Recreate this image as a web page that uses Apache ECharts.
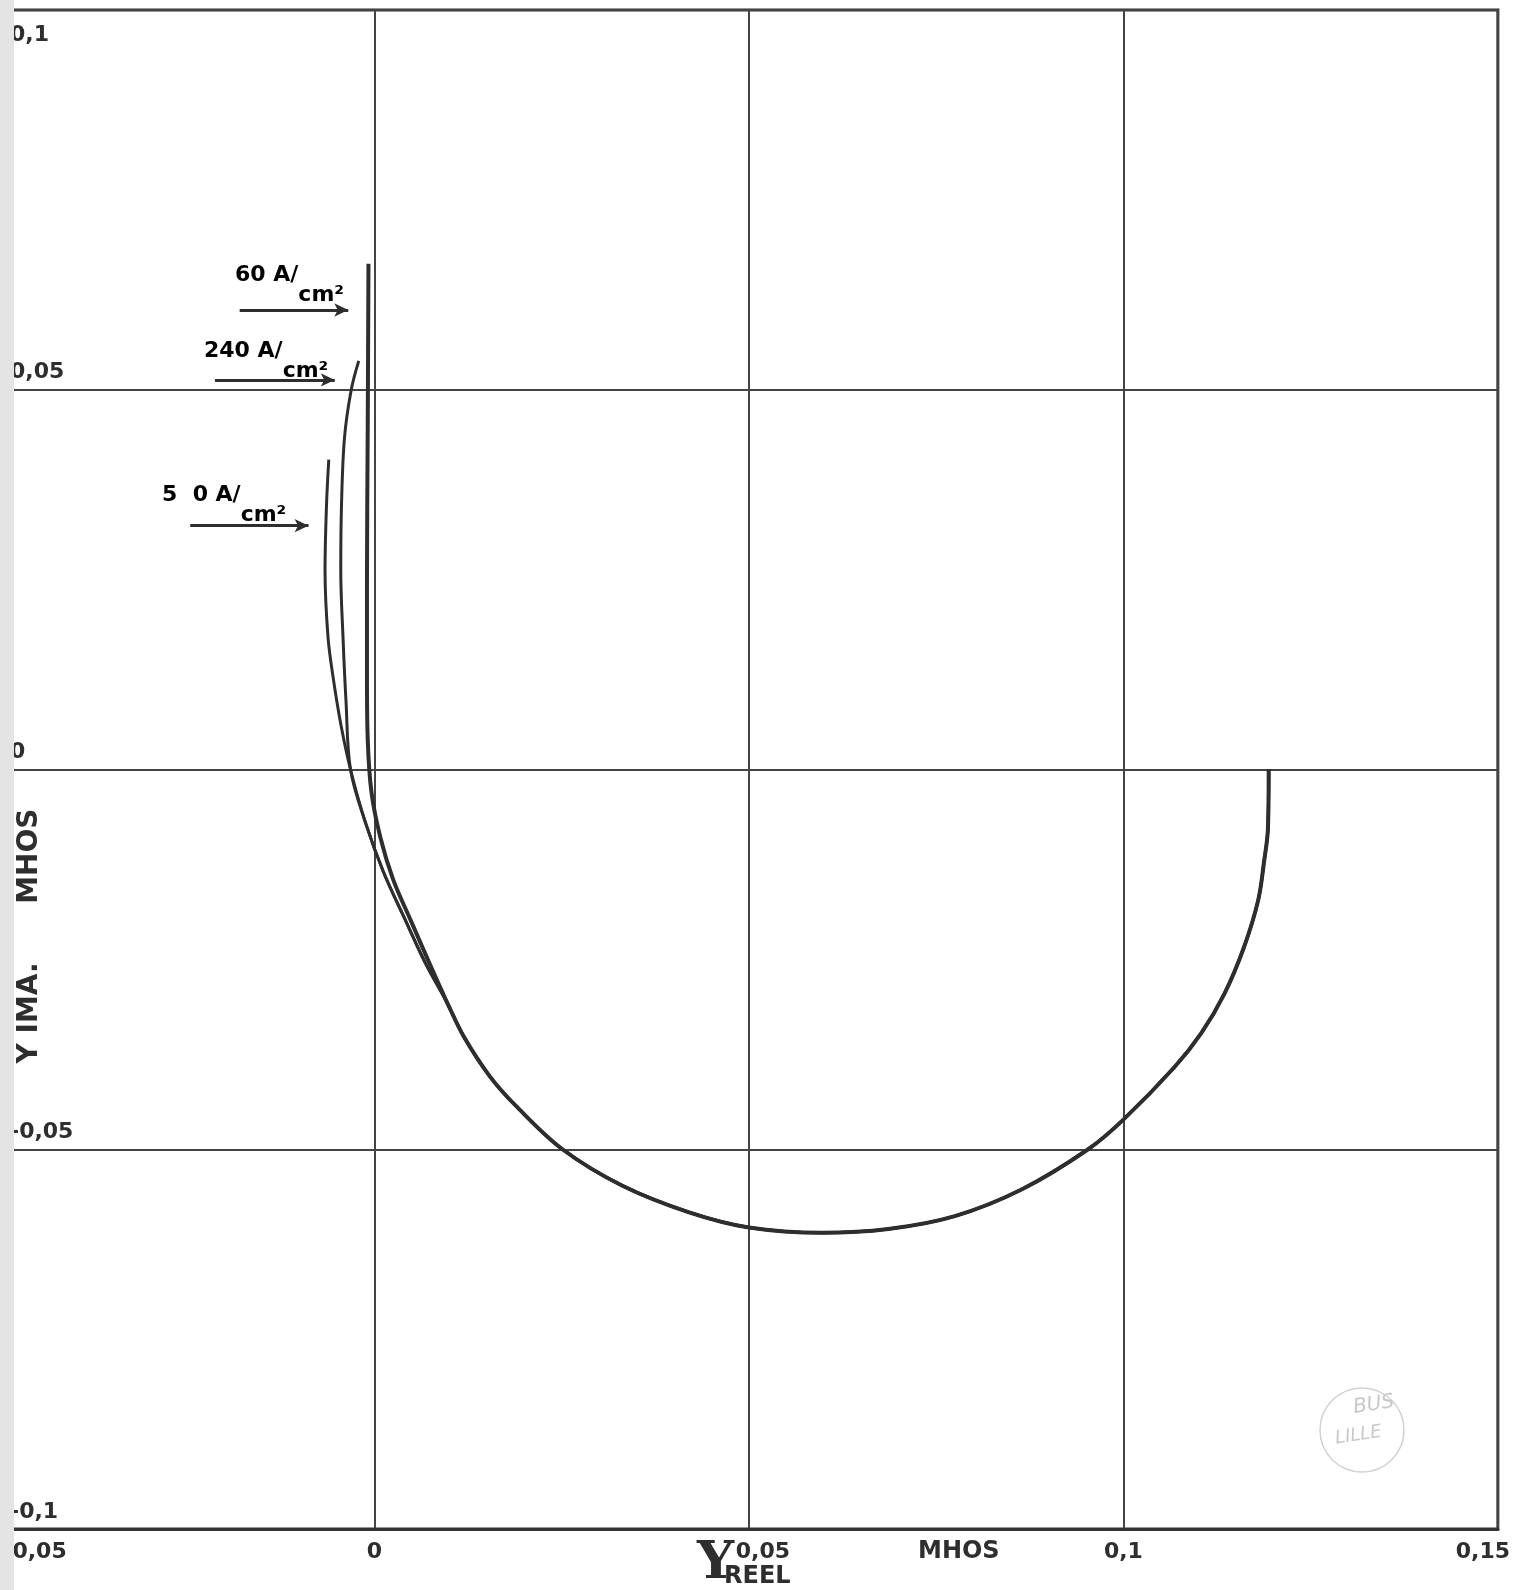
<!DOCTYPE html>
<html>
<head>
<meta charset="utf-8">
<script src="https://cdn.jsdelivr.net/npm/echarts@6/dist/echarts.min.js"></script>
<style>
html, body { margin: 0; padding: 0; background: #fff; }
#chart { width: 1513px; height: 1590px; }
</style>
</head>
<body>
<div id="chart"></div>
<script>
// admittance (Y reel / Y imag, mhos)
var xMin = -0.05, xMax = 0.15, xStep = 0.05;
var yMin = -0.1, yMax = 0.1, yStep = 0.05;

// upper parts, one per current density
var head_60 = [[-0.0008, 0.0666], [-0.0009, 0.045], [-0.001, 0.025], [-0.001, 0.012], [-0.0009, 0.004],
    [-0.0004, -0.003], [0.0008, -0.009], [0.0025, -0.0145], [0.0049, -0.02], [0.0072, -0.0252]];
var head_240 = [[-0.0021, 0.0538], [-0.0031, 0.05], [-0.004, 0.0437], [-0.0044, 0.0349], [-0.0045, 0.0262],
    [-0.0042, 0.0174], [-0.0038, 0.009]];
var head_50 = [[-0.0061, 0.0408], [-0.0064, 0.0349], [-0.0066, 0.0262], [-0.0062, 0.0174], [-0.0055, 0.012],
    [-0.0045, 0.006]];
// 240 and 50 run together below the real axis
var bend_low = [[-0.0032, 0.0], [-0.0012, -0.007], [0.0012, -0.0135], [0.0042, -0.02], [0.0068, -0.0255]];
// common lower arc
var tail = [[0.0098, -0.0309], [0.012, -0.0353], [0.0154, -0.0404], [0.0189, -0.0443], [0.0251, -0.05],
    [0.0331, -0.0548], [0.042, -0.0583], [0.05, -0.0603], [0.0598, -0.061], [0.0686, -0.0605],
    [0.0775, -0.0588], [0.0864, -0.0553], [0.0953, -0.05], [0.1, -0.0461], [0.1068, -0.0392],
    [0.1104, -0.0347], [0.1135, -0.0295], [0.1161, -0.0234], [0.118, -0.0172], [0.1188, -0.012],
    [0.1193, -0.0078], [0.1194, 0]];

// arrows pointing at each curve (data coords)
var arrow_60 = [[-0.018, 0.0605], [-0.0035, 0.0605]];
var arrow_240 = [[-0.0213, 0.0513], [-0.0053, 0.0513]];
var arrow_50 = [[-0.0246, 0.0321], [-0.0088, 0.0321]];

var ink = '#2e2e2e';
var font = 'DejaVu Sans';

function fmt(v) {
    if (v === 0) return '0';
    return String(Math.round(v * 100) / 100).replace('.', ',');
}

function arrowLine(a) {
    return {
        silent: true,
        symbol: ['none', 'arrow'],
        symbolSize: [10, 14],
        label: {show: false},
        lineStyle: {color: ink, width: 3, type: 'solid'},
        data: [[{coord: a[0]}, {coord: a[1]}]]
    };
}

function curve(name, data, width, arrow) {
    var s = {
        name: name,
        type: 'line',
        data: data,
        smooth: 0.35,
        showSymbol: false,
        silent: true,
        animation: false,
        lineStyle: {color: ink, width: width}
    };
    if (arrow) s.markLine = arrowLine(arrow);
    return s;
}

var dens = {
    n: {fontFamily: font, fontWeight: 'bold', fontSize: 22, color: ink, lineHeight: 42, verticalAlign: 'top'},
    c: {fontFamily: font, fontWeight: 'bold', fontSize: 22, color: ink, lineHeight: 42, verticalAlign: 'bottom'}
};
var tick = {fontFamily: font, fontWeight: 'bold', fontSize: 22, color: ink};

var chart = echarts.init(document.getElementById('chart'));
chart.setOption({
    backgroundColor: '#fff',
    animation: false,
    grid: {left: -4, right: 12, top: 10, bottom: 61, show: true, borderColor: '#333', borderWidth: 3},
    xAxis: {
        type: 'value', min: xMin, max: xMax, interval: xStep,
        axisLine: {onZero: false, lineStyle: {color: '#333', width: 3}},
        axisTick: {show: false},
        splitLine: {lineStyle: {color: '#444', width: 2}},
        axisLabel: {
            margin: 12, color: ink, fontFamily: font, fontWeight: 'bold', fontSize: 22,
            formatter: function (v) {
                if (v === xMin) return '{l|' + fmt(v) + '}';
                if (v === xMax) return '{r|' + fmt(v) + '}';
                if (v === 0.05) return '{m|' + fmt(v) + '}';
                return fmt(v);
            },
            rich: {
                l: Object.assign({padding: [0, 0, 0, 70]}, tick),
                r: Object.assign({padding: [0, 30, 0, 0]}, tick),
                m: Object.assign({padding: [0, 0, 0, 28]}, tick)
            }
        }
    },
    yAxis: {
        type: 'value', min: yMin, max: yMax, interval: yStep,
        axisLine: {show: false},
        axisTick: {show: false},
        splitLine: {lineStyle: {color: '#444', width: 2}},
        axisLabel: {
            inside: true, margin: 10, align: 'left', verticalAlign: 'middle',
            formatter: function (v) {
                return (v === yMax ? '{t|' : '{b|') + fmt(v) + '}';
            },
            rich: {
                t: Object.assign({padding: [50, 0, 0, 0]}, tick),
                b: Object.assign({padding: [0, 0, 34, 0]}, tick)
            }
        }
    },
    graphic: [
        // curve names
        {type: 'text', x: 235, y: 264, z: 10, style: {text: '{n|60 A/}{c|cm²}', rich: dens}},
        {type: 'text', x: 204, y: 340, z: 10, style: {text: '{n|240 A/}{c|cm²}', rich: dens}},
        {type: 'text', x: 162, y: 484, z: 10, style: {text: '{n|5  0 A/}{c|cm²}', rich: dens}},
        // axis names
        {type: 'text', x: 697, y: 1538, z: 10, style: {text: 'Y', fill: ink, font: 'bold 52px "DejaVu Serif"'}},
        {type: 'text', x: 724, y: 1565, z: 10, style: {text: 'REEL', fill: ink, font: 'bold 24px "DejaVu Sans"'}},
        {type: 'text', x: 918, y: 1540, z: 10, style: {text: 'MHOS', fill: ink, font: 'bold 24px "DejaVu Sans"'}},
        {type: 'text', x: 30, y: 936, z: 10, rotation: Math.PI / 2,
            style: {text: 'Y IMA.      MHOS', fill: ink, font: 'bold 28px "DejaVu Sans"', align: 'center', verticalAlign: 'middle'}},
        // scan edge
        {type: 'rect', z: 20, shape: {x: 0, y: 0, width: 14, height: 1590}, style: {fill: '#e4e4e4'}},
        // library stamp
        {type: 'circle', z: 5, shape: {cx: 1362, cy: 1430, r: 42}, style: {fill: 'none', stroke: '#d2d2d2', lineWidth: 1.5}},
        {type: 'text', z: 5, x: 1352, y: 1398, rotation: 0.15, style: {text: 'BUS', fill: '#c8c8c8', font: 'italic 20px "DejaVu Sans"'}},
        {type: 'text', z: 5, x: 1334, y: 1430, rotation: 0.15, style: {text: 'LILLE', fill: '#c8c8c8', font: 'italic 18px "DejaVu Sans"'}}
    ],
    series: [
        curve('60 A/cm2', head_60.concat(tail), 4, arrow_60),
        curve('240 A/cm2', head_240.concat(bend_low, tail), 3, arrow_240),
        curve('50 A/cm2', head_50.concat(bend_low, tail), 3, arrow_50)
    ]
});
</script>
</body>
</html>
